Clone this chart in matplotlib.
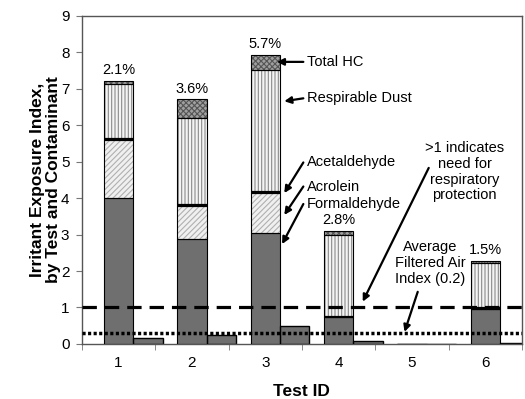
import matplotlib

matplotlib.use("Agg")
import matplotlib.pyplot as plt
import numpy as np

plt.rcParams["font.family"] = ["Liberation Sans", "DejaVu Sans"]
plt.rcParams["hatch.linewidth"] = 0.8

tests = [1, 2, 3, 4, 5, 6]
formaldehyde = [4.00, 2.87, 3.04, 0.74, 0.0, 0.97]
acrolein = [1.60, 0.92, 1.09, 0.0, 0.0, 0.0]
acetaldehyde = [0.04, 0.04, 0.07, 0.03, 0.0, 0.03]
resp_dust = [1.49, 2.36, 3.33, 2.21, 0.0, 1.22]
total_hc = [0.09, 0.52, 0.41, 0.13, 0.0, 0.06]
filtered_air = [0.16, 0.25, 0.48, 0.07, 0.0, 0.02]
pct_labels = ["2.1%", "3.6%", "5.7%", "2.8%", None, "1.5%"]
limit_line = 1.0
avg_filtered = 0.3

x = np.array(tests, dtype=float)
w = 0.4

fig = plt.figure(figsize=(5.25, 3.99), dpi=100)
ax = fig.add_axes([0.156, 0.138, 0.838, 0.822])

layers = [
    (formaldehyde, "#6f6f6f", None, "#6f6f6f"),
    (acrolein, "#f0f0f0", "//////", "#b0b0b0"),
    (acetaldehyde, "#000000", None, "#000000"),
    (resp_dust, "#f4f4f4", "|||||", "#8a8a8a"),
    (total_hc, "#a0a0a0", "xxxxxx", "#555555"),
]
bottom = np.zeros(len(x))
for vals, face, hatch, hcol in layers:
    vals = np.array(vals)
    ax.bar(x, vals, w, bottom=bottom, color=face, hatch=hatch,
           edgecolor=hcol, linewidth=0, zorder=2)
    ax.bar(x, vals, w, bottom=bottom, fill=False, edgecolor="black",
           linewidth=0.8, zorder=3)
    bottom = bottom + vals

ax.bar(x + w, filtered_air, w, color="#6f6f6f", edgecolor="black",
       linewidth=1.0, zorder=2)

for xi, top, lab in zip(x, bottom, pct_labels):
    if lab:
        ax.text(xi, top + 0.1, lab, ha="center", va="bottom", fontsize=10.5)

ax.axhline(limit_line, color="black", lw=2.3, ls=(0, (4.5, 2.5)), zorder=4)
ax.axhline(avg_filtered, color="black", lw=2.5, ls=(0, (0.9, 0.7)), zorder=4)

arrow = dict(arrowstyle="-|>", color="black", lw=1.6, mutation_scale=10,
             shrinkA=0, shrinkB=0)
notes = [
    ("Total HC", (3.16, 7.74), (3.52, 7.74)),
    ("Respirable Dust", (3.26, 6.66), (3.52, 6.74)),
    ("Acetaldehyde", (3.26, 4.14), (3.52, 4.98)),
    ("Acrolein", (3.26, 3.54), (3.52, 4.32)),
    ("Formaldehyde", (3.23, 2.74), (3.52, 3.84)),
]
for txt, head, tail in notes:
    ax.annotate("", xy=head, xytext=tail, arrowprops=arrow, zorder=5)
    ax.text(tail[0] + 0.05, tail[1], txt, ha="left", va="center", fontsize=10.5)

ax.annotate("", xy=(4.33, 1.16), xytext=(5.23, 4.83), arrowprops=arrow, zorder=5)
ax.text(5.72, 4.72, ">1 indicates\nneed for\nrespiratory\nprotection",
        ha="center", va="center", fontsize=10.5, linespacing=1.15)
ax.annotate("", xy=(4.90, 0.33), xytext=(5.08, 1.43), arrowprops=arrow, zorder=5)
ax.text(5.25, 2.22, "Average\nFiltered Air\nIndex (0.2)",
        ha="center", va="center", fontsize=10.5, linespacing=1.15)

ax.set_xlim(0.5, 6.5)
ax.set_ylim(0, 9)
ax.set_xticks(x)
ax.set_xticks(np.arange(0.5, 6.6, 1), minor=True)
ax.tick_params(axis="x", which="major", length=0, pad=9, labelsize=11)
ax.tick_params(axis="x", which="minor", length=4, color="#777777")
ax.tick_params(axis="y", length=4, color="#777777", labelsize=11, pad=5)
ax.set_yticks(range(10))
for s in ax.spines.values():
    s.set_color("#555555")
    s.set_linewidth(1.0)

ax.set_xlabel("Test ID", fontsize=12.5, fontweight="bold", labelpad=10)
ax.set_ylabel("Irritant Exposure Index,\nby Test and Contaminant",
              fontsize=12.5, fontweight="bold", labelpad=0, linespacing=1.1)

fig.savefig("out.png", dpi=100, facecolor="white")
